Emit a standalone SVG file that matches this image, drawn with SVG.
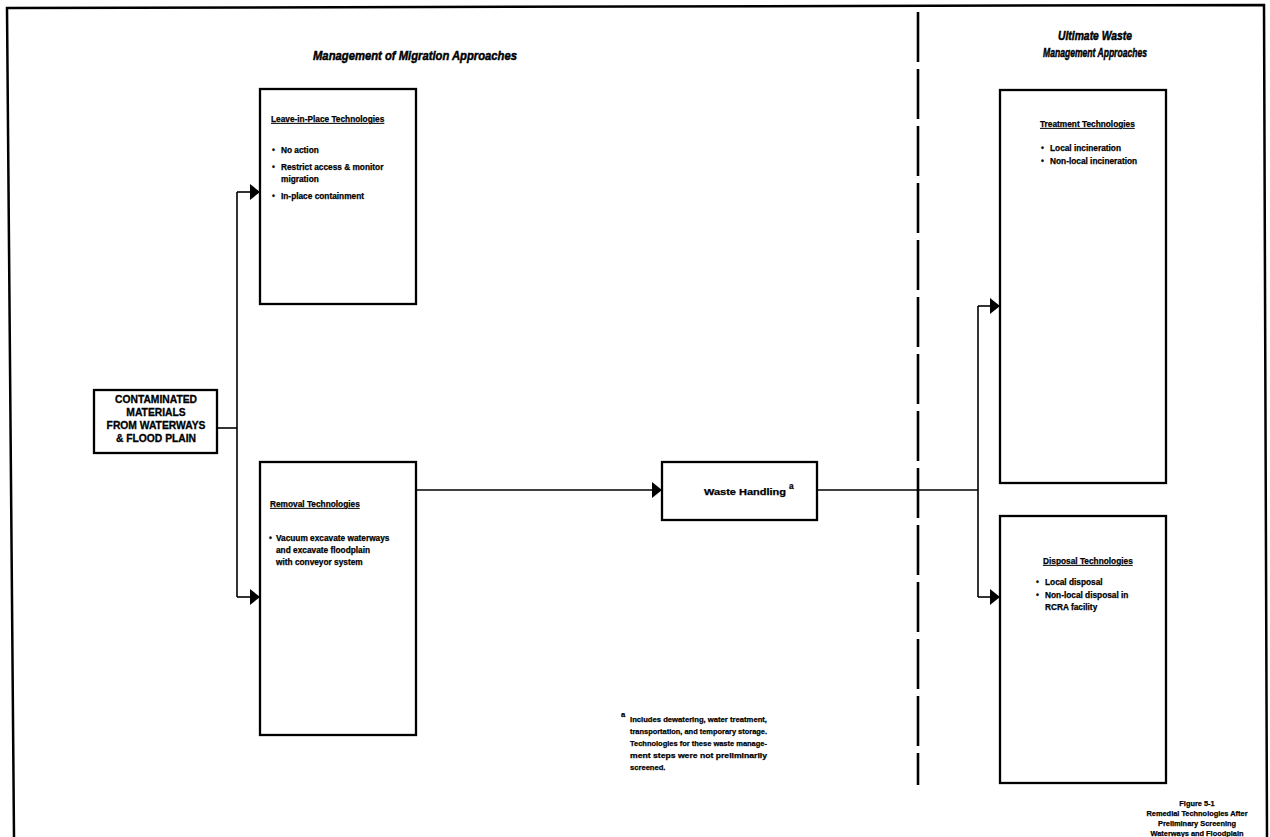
<svg xmlns="http://www.w3.org/2000/svg" width="1270" height="837" viewBox="0 0 1270 837">
  <style>
    text { font-family: "Liberation Sans", Arial, sans-serif; font-weight: bold; fill: #000; stroke: #000; stroke-width: 0.25; }
    .title { font-style: italic; font-size: 12px; stroke-width: 0.45; }
    .head { font-size: 8.3px; text-decoration: underline; }
    .body { font-size: 8.3px; }
    .caps { font-size: 10.3px; stroke-width: 0.3; }
    .note { font-size: 7.6px; }
    .cap { font-size: 7.4px; text-anchor: middle; }
    .box { fill: #fff; stroke: #000; stroke-width: 2.3; }
    .wire { fill: none; stroke: #000; stroke-width: 1.6; }
    .arrow { fill: none; stroke: #000; stroke-width: 1.6; marker-end: url(#head); }
  </style>
  <defs>
    <marker id="head" markerUnits="userSpaceOnUse" markerWidth="11" markerHeight="18" refX="10" refY="9" orient="auto">
      <path d="M0,1 L10,9 L0,17 z" fill="#000"/>
    </marker>
  </defs>

  <rect width="1270" height="837" fill="#fff"/>

  <!-- page frame (open at the bottom) -->
  <path d="M14,837 L7,8 L1264,5 L1267,837" fill="none" stroke="#000" stroke-width="2.5"/>

  <!-- section divider -->
  <line x1="918" y1="12" x2="918" y2="785" stroke="#000" stroke-width="2.6" stroke-dasharray="50 7"/>

  <!-- section titles -->
  <g id="titles">
    <text class="title" x="415" y="60" text-anchor="middle" textLength="204" lengthAdjust="spacingAndGlyphs">Management of Migration Approaches</text>
    <text class="title" x="1095" y="40" text-anchor="middle" textLength="74" lengthAdjust="spacingAndGlyphs">Ultimate Waste</text>
    <text class="title" x="1095" y="57" text-anchor="middle" textLength="104" lengthAdjust="spacingAndGlyphs">Management Approaches</text>
  </g>

  <!-- connectors -->
  <g id="connectors">
    <line class="wire" x1="217" y1="428" x2="237" y2="428"/>
    <line class="wire" x1="237" y1="192" x2="237" y2="597" stroke-width="2"/>
    <line class="arrow" x1="237" y1="192" x2="260" y2="192"/>
    <line class="arrow" x1="237" y1="597" x2="260" y2="597"/>
    <line class="arrow" x1="416" y1="490" x2="662" y2="490"/>
    <line class="wire" x1="817" y1="490" x2="978" y2="490"/>
    <line class="wire" x1="978" y1="306" x2="978" y2="597" stroke-width="2"/>
    <line class="arrow" x1="978" y1="306" x2="1000" y2="306"/>
    <line class="arrow" x1="978" y1="597" x2="1000" y2="597"/>
  </g>

  <g id="contaminated">
    <rect class="box" x="94" y="390" width="123" height="63"/>
    <text class="caps" x="156" y="403" text-anchor="middle">CONTAMINATED</text>
    <text class="caps" x="156" y="416" text-anchor="middle">MATERIALS</text>
    <text class="caps" x="156" y="429" text-anchor="middle">FROM WATERWAYS</text>
    <text class="caps" x="156" y="442" text-anchor="middle">&amp; FLOOD PLAIN</text>
  </g>

  <g id="leave-in-place">
    <rect class="box" x="260" y="89" width="156" height="215"/>
    <text class="head" x="271" y="122">Leave-in-Place Technologies</text>
    <text class="body" x="272" y="153">•</text><text class="body" x="281" y="153">No action</text>
    <text class="body" x="272" y="170">•</text><text class="body" x="281" y="170">Restrict access &amp; monitor</text>
    <text class="body" x="281" y="182">migration</text>
    <text class="body" x="272" y="199">•</text><text class="body" x="281" y="199">In-place containment</text>
  </g>

  <g id="removal">
    <rect class="box" x="260" y="462" width="156" height="273"/>
    <text class="head" x="270" y="507">Removal Technologies</text>
    <text class="body" x="269" y="541">•</text><text class="body" x="276" y="541">Vacuum excavate waterways</text>
    <text class="body" x="276" y="553">and excavate floodplain</text>
    <text class="body" x="276" y="565">with conveyor system</text>
  </g>

  <g id="waste-handling">
    <rect class="box" x="662" y="462" width="155" height="58"/>
    <text class="body" x="704" y="495" textLength="82" lengthAdjust="spacingAndGlyphs">Waste Handling</text>
    <text class="body" x="789" y="489" font-size="6">a</text>
  </g>

  <g id="treatment">
    <rect class="box" x="1000" y="90" width="166" height="393"/>
    <text class="head" x="1040" y="127">Treatment Technologies</text>
    <text class="body" x="1041" y="151">•</text><text class="body" x="1050" y="151">Local incineration</text>
    <text class="body" x="1041" y="164">•</text><text class="body" x="1050" y="164">Non-local incineration</text>
  </g>

  <g id="disposal">
    <rect class="box" x="1000" y="516" width="166" height="267"/>
    <text class="head" x="1043" y="564">Disposal Technologies</text>
    <text class="body" x="1036" y="585">•</text><text class="body" x="1045" y="585">Local disposal</text>
    <text class="body" x="1036" y="598">•</text><text class="body" x="1045" y="598">Non-local disposal in</text>
    <text class="body" x="1045" y="610">RCRA facility</text>
  </g>

  <!-- footnote -->
  <g id="footnote">
    <text class="note" x="621" y="717" font-size="6">a</text>
    <text class="note" x="630" y="722" textLength="137" lengthAdjust="spacingAndGlyphs">Includes dewatering, water treatment,</text>
    <text class="note" x="630" y="734" textLength="137" lengthAdjust="spacingAndGlyphs">transportation, and temporary storage.</text>
    <text class="note" x="630" y="746" textLength="137" lengthAdjust="spacingAndGlyphs">Technologies for these waste manage-</text>
    <text class="note" x="630" y="758" textLength="137" lengthAdjust="spacingAndGlyphs">ment steps were not preliminarily</text>
    <text class="note" x="630" y="770">screened.</text>
  </g>

  <!-- figure caption -->
  <g id="caption">
    <text class="cap" x="1197" y="806">Figure 5-1</text>
    <text class="cap" x="1197" y="816">Remedial Technologies After</text>
    <text class="cap" x="1197" y="826">Preliminary Screening</text>
    <text class="cap" x="1197" y="836">Waterways and Floodplain</text>
  </g>
</svg>
